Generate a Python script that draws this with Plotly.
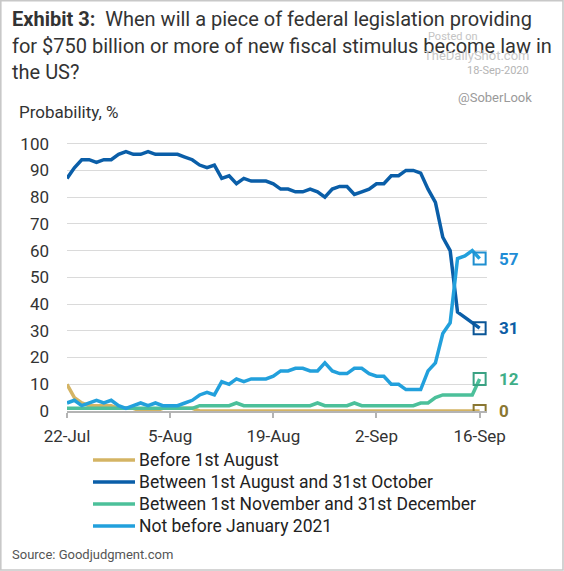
import pandas as pd
import plotly.graph_objects as go

# ---------------------------------------------------------------
# data (daily 22-Jul .. 16-Sep 2020)
dates = pd.date_range("2020-07-22", "2020-09-16", freq="D")

before_aug = [10, 5, 3, 2, 2, 2, 2, 1, 1, 1, 0, 0, 0, 1, 1, 1, 1, 1, 0, 0,
              0, 0, 0, 0, 0, 0, 0, 0, 0, 0, 0, 0, 0, 0, 0, 0, 0, 0, 0, 0,
              0, 0, 0, 0, 0, 0, 0, 0, 0, 0, 0, 0, 0, 0, 0, 0, 0]
aug_oct = [87, 91, 94, 94, 93, 94, 94, 96, 97, 96, 96, 97, 96, 96, 96, 96, 95, 94, 92, 91,
           92, 87, 88, 85, 87, 86, 86, 86, 85, 83, 83, 82, 82, 83, 82, 80, 83, 84, 84, 81,
           82, 83, 85, 85, 88, 88, 90, 90, 89, 83, 78, 65, 60, 37, 35, 33, 31]
nov_dec = [1, 1, 1, 1, 1, 1, 1, 1, 1, 1, 1, 1, 1, 1, 1, 1, 1, 1, 2, 2,
           2, 2, 2, 3, 2, 2, 2, 2, 2, 2, 2, 2, 2, 2, 3, 2, 2, 2, 2, 3,
           2, 2, 2, 2, 2, 2, 2, 2, 3, 3, 5, 6, 6, 6, 6, 6, 12]
not_before_2021 = [3, 4, 2, 3, 4, 3, 4, 2, 1, 2, 3, 2, 3, 2, 2, 2, 3, 4, 6, 7,
                   6, 11, 10, 12, 11, 12, 12, 12, 13, 15, 15, 16, 16, 15, 15, 18, 15, 14, 14, 16,
                   16, 14, 13, 13, 10, 10, 8, 8, 8, 15, 18, 29, 33, 57, 58, 60, 57]

series_names = ["Before 1st August", "Between 1st August and 31st October",
                "Between 1st November and 31st December", "Not before January 2021"]
tick_dates = ["2020-07-22", "2020-08-05", "2020-08-19", "2020-09-02", "2020-09-16"]
tick_text = ["22-Jul", "5-Aug", "19-Aug", "2-Sep", "16-Sep"]

# ---------------------------------------------------------------
line_cols  = ["#d4b464", "#0a5ea8", "#4cc09a", "#22a0dc"]
box_cols   = ["#8a7732", "#0a5596", "#3aa283", "#1f8fd0"]
label_cols = ["#8a7732", "#0c5da5", "#3fae88", "#1f8dd6"]
FONT = "Roboto"

W, H = 564, 571
L, R, T, B = 67, 77, 141, 160
pw, ph = W - L - R, H - T - B

def px(x):   # image pixel x -> paper
    return (x - L) / pw

def py(y):   # image pixel y (from top) -> paper
    return (H - B - y) / ph

fig = go.Figure()
all_series = [before_aug, aug_oct, nov_dec, not_before_2021]
for name, vals, col in zip(series_names, all_series, line_cols):
    fig.add_trace(go.Scatter(x=dates, y=vals, mode="lines", name=name,
                             line=dict(color=col, width=3.5),
                             showlegend=False, hoverinfo="skip"))

# end markers + value labels
for vals, bc, lc in zip(all_series, box_cols, label_cols):
    fig.add_trace(go.Scatter(x=[dates[-1]], y=[vals[-1]], mode="markers",
                             marker=dict(symbol="square-open", size=12, color=bc,
                                         line=dict(width=2, color=bc)),
                             showlegend=False, hoverinfo="skip"))
    fig.add_annotation(x=dates[-1], y=vals[-1], text="<b>%d</b>" % vals[-1],
                       xanchor="left", yanchor="middle", xshift=17, showarrow=False,
                       font=dict(family=FONT, size=17, color=lc))

annots = []
# title, three lines
title_lines = ["<b>Exhibit 3:</b>\u00a0 When will a piece of federal legislation providing",
               "for $750 billion or more of new fiscal stimulus become law in",
               "the US?"]
for txt, yy in zip(title_lines, [19, 46, 72]):
    annots.append(dict(text=txt, x=px(10), y=py(yy), xref="paper", yref="paper",
                       xanchor="left", yanchor="middle", showarrow=False,
                       font=dict(family=FONT, size=20, color="#333333")))

# watermark
annots += [
    dict(text="Posted on", x=px(453), y=py(36), xanchor="center",
         font=dict(family=FONT, size=11, color="#c4c4c4")),
    dict(text="TheDailyShot.com", x=px(531), y=py(55), xanchor="right",
         font=dict(family=FONT, size=13, color="#c8c8c8")),
    dict(text="18-Sep-2020", x=px(531), y=py(71), xanchor="right",
         font=dict(family=FONT, size=11, color="#b4b4b4")),
    dict(text="@SoberLook", x=px(534), y=py(97), xanchor="right",
         font=dict(family=FONT, size=13, color="#9a9a9a")),
    dict(text="Probability, %", x=px(17), y=py(112), xanchor="left",
         font=dict(family=FONT, size=17, color="#333333")),
    dict(text="Source: Goodjudgment.com", x=px(10), y=py(554), xanchor="left",
         font=dict(family=FONT, size=13, color="#555555")),
]

# legend (drawn by hand so the sample lines match)
shapes = []
for i, (name, col) in enumerate(zip(series_names, line_cols)):
    yy = 460 + 22 * i
    shapes.append(dict(type="line", xref="paper", yref="paper",
                       x0=px(93), x1=px(135), y0=py(yy), y1=py(yy),
                       line=dict(color=col, width=3.5)))
    annots.append(dict(text=name, x=px(137), y=py(yy), xanchor="left",
                       font=dict(family=FONT, size=17.5, color="#222222")))

for a in annots:
    a.setdefault("xref", "paper")
    a.setdefault("yref", "paper")
    a.setdefault("yanchor", "middle")
    a.setdefault("showarrow", False)
    fig.add_annotation(**a)

# outer frame
shapes.append(dict(type="rect", xref="paper", yref="paper",
                   x0=px(0.8), x1=px(563), y0=py(570), y1=py(0.8),
                   line=dict(color="#c8c8c8", width=1.6)))

fig.update_layout(
    width=W, height=H,
    margin=dict(l=L, r=R, t=T, b=B),
    paper_bgcolor="white", plot_bgcolor="white",
    shapes=shapes,
    showlegend=False,
    xaxis=dict(type="date", range=["2020-07-22", "2020-09-17"],
               tickvals=tick_dates, ticktext=tick_text,
               showgrid=False, showline=True, linecolor="#b4b4b4", linewidth=1.5,
               ticks="outside", ticklen=5, tickwidth=1.5, tickcolor="#b4b4b4",
               ticklabelstandoff=4,
               tickfont=dict(family=FONT, size=17, color="#333333")),
    yaxis=dict(range=[0, 101], tick0=0, dtick=10,
               showgrid=True, gridcolor="#dadada", gridwidth=1,
               zeroline=False, showline=False, ticks="",
               ticklabelstandoff=17,
               tickfont=dict(family=FONT, size=17, color="#333333")),
)

# page body has a default 8px margin; drop it so the figure sits at the window corner
fig.write_html("out.html", config={"displayModeBar": False},
               post_script="document.body.style.margin='0';document.body.style.overflow='hidden';")
